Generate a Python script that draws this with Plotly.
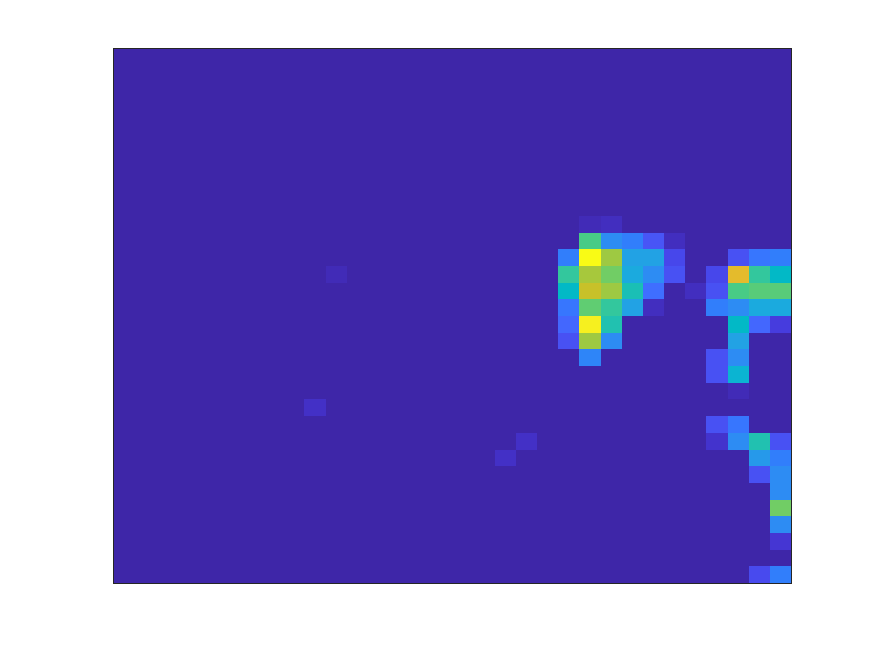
import plotly.graph_objects as go

n_rows = 32
n_cols = 32

# nonzero cells (row, column, value) (1-based, row 1 at top)
cell_rows = [11, 11,
             12, 12, 12, 12, 12,
             13, 13, 13, 13, 13, 13, 13, 13, 13,
             14, 14, 14, 14, 14, 14, 14, 14, 14, 14, 14,
             15, 15, 15, 15, 15, 15, 15, 15, 15, 15,
             16, 16, 16, 16, 16, 16, 16, 16, 16,
             17, 17, 17, 17, 17, 17,
             18, 18, 18, 18,
             19, 19, 19,
             20, 20,
             21,
             22,
             23, 23,
             24, 24, 24, 24, 24,
             25, 25, 25,
             26, 26,
             27, 28, 29, 30,
             32, 32]
cell_cols = [23, 24,
             23, 24, 25, 26, 27,
             22, 23, 24, 25, 26, 27, 30, 31, 32,
             11, 22, 23, 24, 25, 26, 27, 29, 30, 31, 32,
             22, 23, 24, 25, 26, 28, 29, 30, 31, 32,
             22, 23, 24, 25, 26, 29, 30, 31, 32,
             22, 23, 24, 30, 31, 32,
             22, 23, 24, 30,
             23, 29, 30,
             29, 30,
             30,
             10,
             29, 30,
             20, 29, 30, 31, 32,
             19, 31, 32,
             31, 32,
             32, 32, 32, 32,
             31, 32]
cell_vals = [0.02, 0.03,
             0.60, 0.30, 0.26, 0.15, 0.03,
             0.26, 1.00, 0.70, 0.37, 0.37, 0.11, 0.14, 0.24, 0.26,
             0.02, 0.56, 0.71, 0.65, 0.40, 0.30, 0.14, 0.11, 0.79, 0.56, 0.47,
             0.47, 0.75, 0.70, 0.51, 0.22, 0.03, 0.14, 0.60, 0.62, 0.62,
             0.24, 0.63, 0.56, 0.37, 0.03, 0.26, 0.30, 0.40, 0.40,
             0.20, 0.97, 0.52, 0.47, 0.20, 0.08,
             0.14, 0.70, 0.30, 0.37,
             0.28, 0.14, 0.30,
             0.14, 0.44,
             0.02,
             0.04,
             0.14, 0.24,
             0.04, 0.05, 0.30, 0.52, 0.14,
             0.04, 0.34, 0.26,
             0.14, 0.30,
             0.30, 0.65, 0.30, 0.06,
             0.12, 0.26]

z = [[0.0] * n_cols for _ in range(n_rows)]
for r, c, v in zip(cell_rows, cell_cols, cell_vals):
    z[r - 1][c - 1] = v

parula = [[0.2422,0.1504,0.6603],[0.2504,0.1650,0.7076],[0.2578,0.1818,0.7511],[0.2647,0.1978,0.7952],
[0.2706,0.2147,0.8364],[0.2751,0.2342,0.8710],[0.2783,0.2559,0.8991],[0.2803,0.2782,0.9221],
[0.2813,0.3006,0.9414],[0.2810,0.3228,0.9579],[0.2795,0.3447,0.9717],[0.2760,0.3667,0.9829],
[0.2699,0.3892,0.9906],[0.2602,0.4123,0.9952],[0.2440,0.4358,0.9988],[0.2206,0.4603,0.9973],
[0.1963,0.4847,0.9892],[0.1834,0.5074,0.9798],[0.1786,0.5289,0.9682],[0.1764,0.5499,0.9520],
[0.1687,0.5703,0.9359],[0.1540,0.5902,0.9218],[0.1460,0.6091,0.9079],[0.1380,0.6276,0.8973],
[0.1248,0.6459,0.8883],[0.1113,0.6635,0.8763],[0.0952,0.6798,0.8598],[0.0689,0.6948,0.8394],
[0.0297,0.7082,0.8163],[0.0036,0.7203,0.7917],[0.0067,0.7312,0.7660],[0.0433,0.7411,0.7394],
[0.0964,0.7500,0.7120],[0.1408,0.7584,0.6842],[0.1717,0.7670,0.6554],[0.1938,0.7758,0.6251],
[0.2161,0.7843,0.5923],[0.2470,0.7918,0.5567],[0.2906,0.7973,0.5188],[0.3406,0.8008,0.4789],
[0.3909,0.8029,0.4354],[0.4456,0.8024,0.3909],[0.5044,0.7993,0.3480],[0.5616,0.7942,0.3045],
[0.6174,0.7876,0.2612],[0.6720,0.7793,0.2227],[0.7242,0.7698,0.1910],[0.7738,0.7598,0.1646],
[0.8203,0.7498,0.1535],[0.8634,0.7406,0.1596],[0.9035,0.7330,0.1774],[0.9393,0.7288,0.2100],
[0.9728,0.7298,0.2394],[0.9956,0.7434,0.2371],[0.9970,0.7659,0.2199],[0.9952,0.7893,0.2028],
[0.9892,0.8136,0.1885],[0.9786,0.8386,0.1766],[0.9676,0.8639,0.1643],[0.9610,0.8890,0.1537],
[0.9597,0.9135,0.1423],[0.9628,0.9373,0.1265],[0.9691,0.9606,0.1064],[0.9769,0.9839,0.0805]]

colorscale = [[i / (len(parula) - 1),
               "rgb(%d,%d,%d)" % (round(c[0] * 255), round(c[1] * 255), round(c[2] * 255))]
              for i, c in enumerate(parula)]

fig = go.Figure(go.Heatmap(
    z=z,
    x=list(range(1, n_cols + 1)),
    y=list(range(1, n_rows + 1)),
    colorscale=colorscale,
    zmin=0, zmax=1,
    showscale=False,
    xgap=0, ygap=0,
))

fig.update_layout(
    width=875, height=656,
    margin=dict(l=114, r=84, t=49, b=73),
    paper_bgcolor="white",
    plot_bgcolor="white",
    xaxis=dict(range=[0.5, n_cols + 0.5], showticklabels=False, ticks="", showgrid=False,
               zeroline=False, showline=True, mirror=True, linecolor="#262626", linewidth=1),
    yaxis=dict(range=[n_rows + 0.5, 0.5], showticklabels=False, ticks="", showgrid=False,
               zeroline=False, showline=True, mirror=True, linecolor="#262626", linewidth=1),
)

fig.write_html("out.html")
